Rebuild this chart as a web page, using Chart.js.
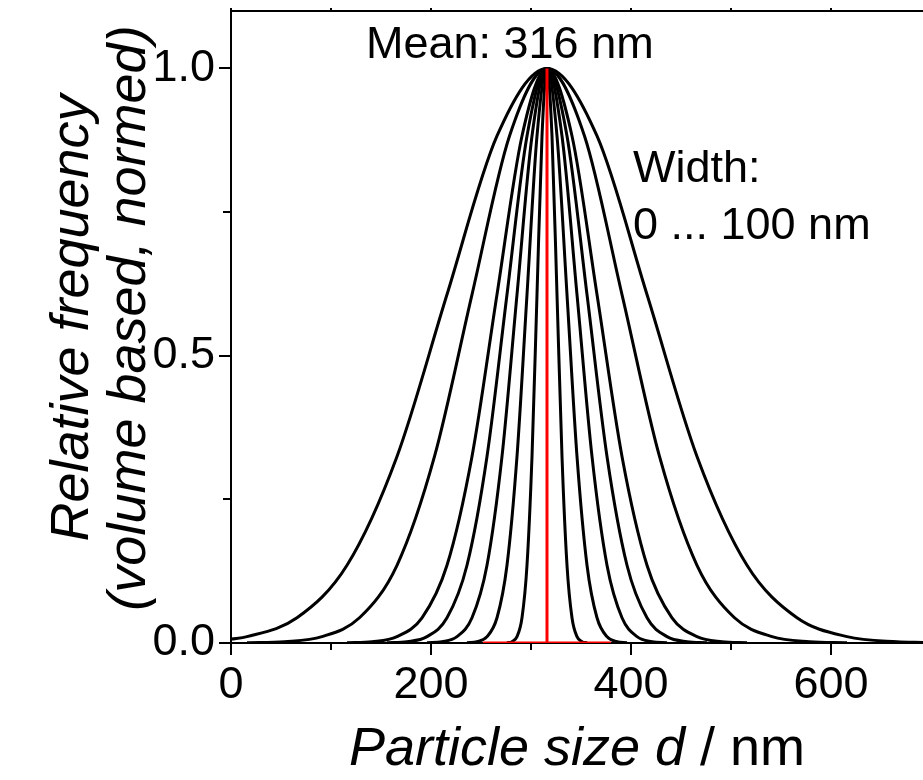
<!DOCTYPE html>
<html>
<head>
<meta charset="utf-8">
<title>Particle size distribution</title>
<script src="https://cdn.jsdelivr.net/npm/chart.js@4.4.1/dist/chart.umd.min.js"></script>
<style>
  html, body { margin: 0; padding: 0; background: #fff; }
  #wrap { width: 923px; height: 780px; position: relative; }
</style>
</head>
<body>
<div id="wrap"><canvas id="psd-chart"></canvas></div>
<script>
const FONT = '"Liberation Sans", Arial, sans-serif';

// axis ticks
const xMajorTicks = [0, 200, 400, 600];
const xMinorTicks = [100, 300, 500];
const yMajorTicks = [0, 0.5, 1.0];
const yMinorTicks = [0.25, 0.75];

// width 0 nm: spike at the mean
const sizeW0 = [252, 316, 316, 316, 380];
const freqW0 = [0, 0, 1, 0, 0];

const sizeW10 = [276, 281, 286, 291, 296, 301, 306, 311, 316, 321, 326, 331, 336, 341, 346, 351, 356];
const freqW10 = [0.0003, 0.0022, 0.0111, 0.0439, 0.1353, 0.3247, 0.6065, 0.8825, 1, 0.8825, 0.6065, 0.3247, 0.1353, 0.0439, 0.0111, 0.0022, 0.0003];

const sizeW20 = [236, 246, 256, 266, 276, 286, 296, 306, 316, 326, 336, 346, 356, 366, 376, 386, 396];
const freqW20 = [0.0003, 0.0022, 0.0111, 0.0439, 0.1353, 0.3247, 0.6065, 0.8825, 1, 0.8825, 0.6065, 0.3247, 0.1353, 0.0439, 0.0111, 0.0022, 0.0003];

const sizeW30 = [196, 211, 226, 241, 256, 271, 286, 301, 316, 331, 346, 361, 376, 391, 406, 421, 436];
const freqW30 = [0.0003, 0.0022, 0.0111, 0.0439, 0.1353, 0.3247, 0.6065, 0.8825, 1, 0.8825, 0.6065, 0.3247, 0.1353, 0.0439, 0.0111, 0.0022, 0.0003];

const sizeW40 = [156, 176, 196, 216, 236, 256, 276, 296, 316, 336, 356, 376, 396, 416, 436, 456, 476];
const freqW40 = [0.0003, 0.0022, 0.0111, 0.0439, 0.1353, 0.3247, 0.6065, 0.8825, 1, 0.8825, 0.6065, 0.3247, 0.1353, 0.0439, 0.0111, 0.0022, 0.0003];

const sizeW50 = [116, 141, 166, 191, 216, 241, 266, 291, 316, 341, 366, 391, 416, 441, 466, 491, 516];
const freqW50 = [0.0003, 0.0022, 0.0111, 0.0439, 0.1353, 0.3247, 0.6065, 0.8825, 1, 0.8825, 0.6065, 0.3247, 0.1353, 0.0439, 0.0111, 0.0022, 0.0003];

const sizeW75 = [16, 53.5, 91, 128.5, 166, 203.5, 241, 278.5, 316, 353.5, 391, 428.5, 466, 503.5, 541, 578.5, 616];
const freqW75 = [0.0003, 0.0022, 0.0111, 0.0439, 0.1353, 0.3247, 0.6065, 0.8825, 1, 0.8825, 0.6065, 0.3247, 0.1353, 0.0439, 0.0111, 0.0022, 0.0003];

const sizeW100 = [0, 16, 66, 116, 166, 216, 266, 316, 366, 416, 466, 516, 566, 616, 666, 692];
const freqW100 = [0.0068, 0.0111, 0.0439, 0.1353, 0.3247, 0.6065, 0.8825, 1, 0.8825, 0.6065, 0.3247, 0.1353, 0.0439, 0.0111, 0.0022, 0.0009];

const toPoints = (sizes, freqs) => sizes.map((x, i) => ({ x, y: freqs[i] }));

const curve = (sizes, freqs) => ({
  data: toPoints(sizes, freqs),
  borderColor: '#000000',
  borderWidth: 3,
  pointRadius: 0,
  fill: false,
  cubicInterpolationMode: 'monotone',
});

// first dataset is painted last, so the red spike sits on top
const datasets = [
  {
    data: toPoints(sizeW0, freqW0),
    borderColor: '#ff0000',
    borderWidth: 3,
    pointRadius: 0,
    fill: false,
    tension: 0,
  },
  curve(sizeW10, freqW10),
  curve(sizeW20, freqW20),
  curve(sizeW30, freqW30),
  curve(sizeW40, freqW40),
  curve(sizeW50, freqW50),
  curve(sizeW75, freqW75),
  curve(sizeW100, freqW100),
];

const tickValues = (major, minor) => [...major, ...minor].sort((a, b) => a - b).map((value) => ({ value }));

const frameAndTicks = {
  id: 'frameAndTicks',
  afterDraw(chart) {
    const { ctx, chartArea: a, scales: { x, y } } = chart;
    ctx.save();
    ctx.strokeStyle = '#000';
    ctx.lineWidth = 2;
    ctx.beginPath();
    ctx.moveTo(a.left - 1, a.top);
    ctx.lineTo(a.right, a.top);
    ctx.stroke();

    const xTick = (v, len) => {
      const px = Math.round(x.getPixelForValue(v));
      ctx.beginPath();
      ctx.moveTo(px, a.bottom);
      ctx.lineTo(px, a.bottom + len);
      ctx.moveTo(px, a.top);
      ctx.lineTo(px, a.top - 3);
      ctx.stroke();
    };
    const yTick = (v, len) => {
      const py = Math.round(y.getPixelForValue(v));
      ctx.beginPath();
      ctx.moveTo(a.left, py);
      ctx.lineTo(a.left - len, py);
      ctx.stroke();
    };
    xMajorTicks.forEach((v) => xTick(v, 12));
    xMinorTicks.forEach((v) => xTick(v, 7));
    yMajorTicks.forEach((v) => yTick(v, 12));
    yMinorTicks.forEach((v) => yTick(v, 8));
    ctx.restore();
  },
};

const textLabels = {
  id: 'textLabels',
  afterDraw(chart) {
    const { ctx, chartArea: a, scales: { x, y } } = chart;
    ctx.save();
    ctx.fillStyle = '#000';
    ctx.textBaseline = 'alphabetic';

    // annotations inside the plot
    ctx.font = `45px ${FONT}`;
    ctx.textAlign = 'left';
    ctx.fillText('Mean: 316 nm', x.getPixelForValue(135), y.getPixelForValue(1.019));
    ctx.fillText('Width:', x.getPixelForValue(402), y.getPixelForValue(0.802));
    ctx.fillText('0 ... 100 nm', x.getPixelForValue(402), y.getPixelForValue(0.704));

    // x axis title, mixed italic / upright
    const italic = `italic 54px ${FONT}`;
    const upright = `54px ${FONT}`;
    ctx.font = italic;
    const partA = 'Particle size d';
    const wA = ctx.measureText(partA).width;
    ctx.font = upright;
    const partB = ' / nm';
    const wB = ctx.measureText(partB).width;
    const startX = (a.left + a.right) / 2 - (wA + wB) / 2;
    ctx.font = italic;
    ctx.fillText(partA, startX, 765);
    ctx.font = upright;
    ctx.fillText(partB, startX + wA, 765);

    // y axis title, two rotated lines
    ctx.font = italic;
    ctx.textAlign = 'center';
    ctx.translate(88, 318);
    ctx.rotate(-Math.PI / 2);
    ctx.fillText('Relative frequency', 0, 0);
    ctx.fillText('(volume based, normed)', 0, 57);
    ctx.restore();
  },
};

Chart.defaults.font.family = FONT;
Chart.defaults.font.size = 45;
Chart.defaults.color = '#000';

new Chart(document.getElementById('psd-chart'), {
  type: 'line',
  data: { datasets },
  options: {
    responsive: true,
    maintainAspectRatio: false,
    animation: false,
    layout: { padding: { top: 11, right: 0, left: 0, bottom: 0 } },
    plugins: {
      legend: { display: false },
      tooltip: { enabled: false },
    },
    scales: {
      x: {
        type: 'linear',
        min: 0,
        max: 692,
        afterBuildTicks: (scale) => { scale.ticks = tickValues(xMajorTicks, xMinorTicks); },
        afterFit: (scale) => {
          scale.height = 137;
          scale.paddingLeft = 0;
          scale.paddingRight = 0;
        },
        grid: { drawOnChartArea: false, tickLength: 12, tickColor: 'transparent' },
        border: { display: true, color: '#000', width: 2 },
        ticks: {
          padding: 4,
          maxRotation: 0,
          autoSkip: false,
          callback: (v) => (xMajorTicks.includes(v) ? String(v) : ''),
        },
      },
      y: {
        type: 'linear',
        min: 0,
        max: 1.1,
        afterBuildTicks: (scale) => { scale.ticks = tickValues(yMajorTicks, yMinorTicks); },
        afterFit: (scale) => {
          scale.width = 231;
          scale.paddingTop = 0;
          scale.paddingBottom = 0;
        },
        grid: { drawOnChartArea: false, tickLength: 12, tickColor: 'transparent' },
        border: { display: true, color: '#000', width: 2 },
        ticks: {
          padding: 4,
          autoSkip: false,
          callback: (v) => (yMajorTicks.includes(v) ? v.toFixed(1) : ''),
        },
      },
    },
  },
  plugins: [frameAndTicks, textLabels],
});
</script>
</body>
</html>
